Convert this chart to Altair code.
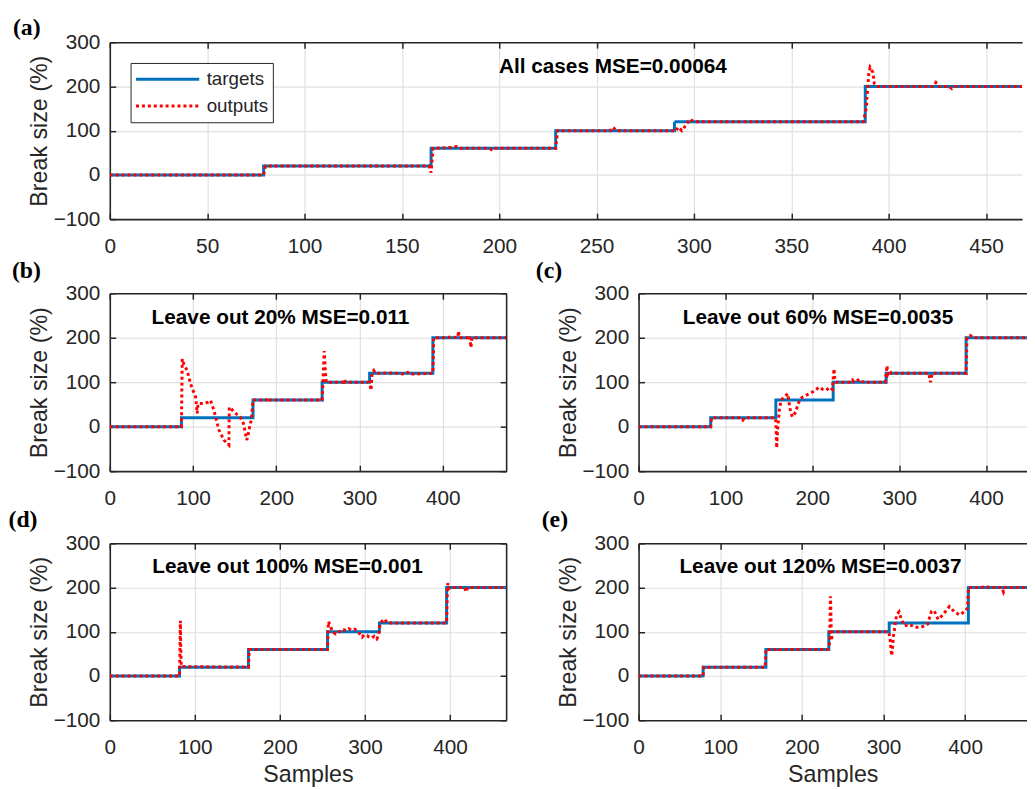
import altair as alt
import pandas as pd

BLUE = "#0072BD"
RED = "#FF0000"
INK = "#262626"
GRID = "#e0e0e0"
SANS = "Liberation Sans"
SERIF = "Liberation Serif"

LEVELS = [0, 20, 60, 100, 120, 200, 200]
Y_TICKS = [-100, 0, 100, 200, 300]
X_TICKS_A = [0, 50, 100, 150, 200, 250, 300, 350, 400, 450]
X_TICKS = [0, 100, 200, 300, 400]
SERIES = ["targets", "outputs"]

# ---------------- (a) all cases ----------------
a_step_x = [0, 79, 165, 229, 290, 388, 476]
a_out_x = [0, 79, 80, 126, 127, 128, 164, 165, 166, 175, 178, 180, 195, 196, 197, 229, 230,
           257, 258.5, 260, 289, 290.5, 292, 293.8, 295.5, 298, 300, 387, 388.5, 389.8, 390.5,
           391.9, 392.7, 394, 423, 424.3, 426, 431, 432.5, 434, 476]
a_out_y = [0, 0, 20, 20, 22, 20, 20, 5, 60, 62, 64, 60, 60, 57, 60, 60, 100,
           100, 108, 100, 100, 98, 108, 100, 110, 126, 120, 120, 150, 228, 243,
           232, 206, 200, 200, 209, 200, 200, 195, 200, 200]

# ---------------- (b) leave out 20% ----------------
b_step_x = [0, 86, 172, 255, 312, 388, 476]
b_out_x = [0, 86, 87, 89, 93, 97, 103, 105, 106, 113, 118, 121, 125, 131, 137, 143, 143.5,
           146, 149, 156.5, 160.5, 164.5, 166, 168.4, 170, 172, 188, 190, 192, 255, 256,
           257.5, 259, 260, 281, 282, 283, 311, 313, 313.7, 315, 317, 319, 340, 355, 358,
           360, 388, 389, 405, 410, 418, 418.7, 420, 430, 432, 433.7, 435, 476]
b_out_y = [0, 0, 152, 140, 126, 96, 67, 30, 52, 52, 55, 59, 37, -7, -30, -41, 44,
           40, 33, 22, 7, -30, -20, 4, 15, 60, 60, 65, 60, 60, 100,
           170, 120, 100, 100, 106, 100, 100, 90, 82, 120, 126, 120, 121, 118, 122,
           118, 120, 200, 200, 202, 200, 215, 200, 200, 205, 178, 200, 200]

# ---------------- (c) leave out 60% ----------------
c_step_x = [0, 83, 158, 224, 285, 377, 476]
c_out_x = [0, 83, 84, 118, 120, 122, 157, 158, 159, 160, 162, 164, 167.5, 172, 173, 175,
           177, 181, 183, 186, 189, 196.5, 202, 208, 212, 216, 220, 223, 224, 225, 226,
           228, 244, 246, 248, 254.8, 257, 260, 284, 285, 286, 287, 289, 291, 334, 336,
           338, 377, 378, 382, 385, 476]
c_out_y = [0, 0, 20, 20, 15, 20, 20, 11, -48, -7, 37, 59, 67, 74, 56, 33,
           22, 33, 48, 62, 67, 74, 80, 89, 84, 82, 89, 84, 107, 130, 103,
           100, 100, 105, 100, 107, 102, 100, 100, 120, 137, 118, 125, 120, 120, 100,
           120, 120, 200, 205, 200, 200]

# ---------------- (d) leave out 100% ----------------
d_step_x = [0, 82, 163, 256, 317, 396, 476]
d_out_x = [0, 82, 83, 83.5, 84, 90, 163, 164, 256, 257, 259.5, 262, 265.7, 270, 273.5,
           278, 281, 285, 288, 292, 296.7, 299, 302.5, 305, 308, 311, 314, 316, 318,
           323, 326, 396, 397, 397.5, 399, 405, 417, 419, 421, 476]
d_out_y = [0, 0, 125, 60, 22, 21, 20, 60, 60, 123, 112, 100, 95, 100, 106,
           103, 107, 104, 106, 100, 88, 93, 92, 88, 86, 90, 84, 92, 120,
           129, 120, 120, 200, 210, 198, 200, 200, 190, 200, 200]

# ---------------- (e) leave out 120% ----------------
e_step_x = [0, 79, 156, 233, 307, 404, 478]
e_out_x = [0, 79, 80, 155, 156, 168, 170, 172, 232, 234, 235, 235.5, 236, 236.5, 237, 238,
           306, 307, 308, 310, 311, 312, 314, 316, 319, 322, 326, 332, 338, 346, 354,
           358.5, 362, 367, 372.5, 380.7, 387, 393, 401, 403, 404, 420, 425, 430, 445,
           447, 449, 478]
e_out_y = [0, 0, 20, 20, 60, 60, 63, 60, 60, 75, 180, 150, 100, 80, 100, 100,
           100, 95, 83, 46, 62, 88, 112, 138, 145, 128, 113, 117, 110, 110, 117,
           145, 148, 128, 138, 157, 145, 138, 148, 155, 200, 200, 203, 200, 200,
           190, 200, 200]


def ax(**kw):
    base = dict(labelFont=SANS, labelFontSize=21, labelColor=INK,
                titleFont=SANS, titleFontSize=23.5, titleFontWeight="normal",
                titleColor=INK, tickColor=INK, tickWidth=1.5,
                domainColor=INK, domainWidth=1.6, gridColor=GRID, gridWidth=1.2,
                labelFlush=False, labelOverlap=False)
    base.update(kw)
    return alt.Axis(**base)


def panel(step_x, out_x, out_y, xmax, w, h, xticks, tag, tag_xy, note, note_xy,
          xtitle, right, legend=False):
    tdf = pd.DataFrame({"x": step_x, "y": LEVELS, "s": SERIES[0]})
    odf = pd.DataFrame({"x": out_x, "y": out_y, "s": SERIES[1]})
    xs = alt.Scale(domain=[0, xmax], nice=False, zero=False)
    ys = alt.Scale(domain=[-100, 300], nice=False, zero=False)

    grid_x = ax(orient="bottom", values=xticks, grid=True, ticks=False, labels=False,
                domain=True, title=None)
    grid_y = ax(orient="left", values=Y_TICKS, grid=True, ticks=False, labels=False,
                domain=True, title=None)
    lab_x_kw = dict(orient="bottom", values=xticks, grid=False, ticks=True, tickSize=6,
                    offset=-6, labels=True, domain=False, labelPadding=16.5,
                    titlePadding=6)
    lab_x = ax(title=xtitle, **lab_x_kw) if xtitle else ax(title=None, **lab_x_kw)
    lab_y = ax(orient="left", values=Y_TICKS, grid=False, ticks=True, tickSize=6,
               offset=-6, labels=True, domain=False, labelPadding=10,
               title="Break size (%)", titlePadding=2)
    top_dom = ax(orient="top", values=xticks, grid=False, ticks=False, labels=False,
                 domain=True, title=None)
    top_tick = ax(orient="top", values=xticks, grid=False, ticks=True, tickSize=6,
                  offset=-6, labels=False, domain=False, title=None)
    right_dom = ax(orient="right", values=Y_TICKS, grid=False, ticks=False, labels=False,
                   domain=True, title=None)
    right_tick = ax(orient="right", values=Y_TICKS, grid=False, ticks=True, tickSize=6,
                    offset=-6, labels=False, domain=False, title=None)

    if legend:
        leg = alt.Legend(orient="none", legendX=21, legendY=21, title=None,
                         padding=4, clipHeight=25, rowPadding=2,
                         symbolType="stroke", symbolSize=4096, symbolStrokeWidth=3,
                         labelFont=SANS, labelFontSize=19, labelColor=INK,
                         labelOffset=6, strokeColor=INK, fillColor="white")
        cscale = alt.Scale(domain=SERIES, range=[BLUE, RED])
        dscale = alt.Scale(domain=SERIES, range=[[1, 0], [3, 3]])
        t_line = alt.Chart(tdf).mark_line(interpolate="step-after", strokeWidth=3,
                                           clip=True).encode(
            x=alt.X("x:Q", scale=xs, axis=grid_x),
            y=alt.Y("y:Q", scale=ys, axis=grid_y),
            color=alt.Color("s:N", scale=cscale, legend=leg),
            strokeDash=alt.StrokeDash("s:N", scale=dscale, legend=leg))
        o_line = alt.Chart(odf).mark_line(strokeWidth=3, clip=True).encode(
            x=alt.X("x:Q", scale=xs, axis=lab_x),
            y=alt.Y("y:Q", scale=ys, axis=lab_y),
            color=alt.Color("s:N", scale=cscale, legend=leg),
            strokeDash=alt.StrokeDash("s:N", scale=dscale, legend=leg))
    else:
        t_line = alt.Chart(tdf).mark_line(interpolate="step-after", strokeWidth=3,
                                           color=BLUE, clip=True).encode(
            x=alt.X("x:Q", scale=xs, axis=grid_x),
            y=alt.Y("y:Q", scale=ys, axis=grid_y))
        o_line = alt.Chart(odf).mark_line(strokeWidth=3, color=RED, strokeDash=[3, 3],
                                           clip=True).encode(
            x=alt.X("x:Q", scale=xs, axis=lab_x),
            y=alt.Y("y:Q", scale=ys, axis=lab_y))

    frame1 = alt.Chart(tdf).mark_line(opacity=0, clip=True).encode(
        x=alt.X("x:Q", scale=xs, axis=top_dom),
        y=alt.Y("y:Q", scale=ys, axis=right_dom if right else None))
    frame2 = alt.Chart(tdf).mark_line(opacity=0, clip=True).encode(
        x=alt.X("x:Q", scale=xs, axis=top_tick),
        y=alt.Y("y:Q", scale=ys, axis=right_tick if right else None))

    note_layer = alt.Chart(pd.DataFrame({"t": [note]})).mark_text(
        font=SANS, fontSize=21, fontWeight="bold", color="black",
        align="center", baseline="alphabetic").encode(
        x=alt.value(note_xy[0]), y=alt.value(note_xy[1]), text="t:N")
    tag_layer = alt.Chart(pd.DataFrame({"t": [tag]})).mark_text(
        font=SERIF, fontSize=24, fontWeight="bold", color="black",
        align="left", baseline="alphabetic").encode(
        x=alt.value(tag_xy[0]), y=alt.value(tag_xy[1]), text="t:N")

    return alt.layer(t_line, o_line, frame1, frame2, note_layer, tag_layer).resolve_axis(
        x="independent", y="independent").properties(width=w, height=h)


pa = panel(a_step_x, a_out_x, a_out_y, 923 / 1.97, 923, 179, X_TICKS_A,
           "(a)", (-98, -7.5), "All cases MSE=0.00064", (509, 31.3), None, False,
           legend=True)
pb = panel(b_step_x, b_out_x, b_out_y, 476, 401, 180, X_TICKS,
           "(b)", (-99, -15), "Leave out 20% MSE=0.011", (172.7, 30.7), None, True)
pc = panel(c_step_x, c_out_x, c_out_y, 393 / 0.879, 393, 180, X_TICKS,
           "(c)", (-104, -15), "Leave out 60% MSE=0.0035", (181.5, 30.7), None, False)
pd_ = panel(d_step_x, d_out_x, d_out_y, 466, 401, 179, X_TICKS,
            "(d)", (-102.5, -16), "Leave out 100% MSE=0.001", (179.8, 30.3), "Samples", True)
pe = panel(e_step_x, e_out_x, e_out_y, 393 / 0.826, 393, 179, X_TICKS,
           "(e)", (-98, -16), "Leave out 120% MSE=0.0037", (184, 30.3), "Samples", False)

row2 = alt.hconcat(pb, pc, spacing=29)
row3 = alt.hconcat(pd_, pe, spacing=35)
lower = alt.vconcat(row2, row3, spacing=0)

chart = alt.vconcat(pa, lower, spacing=3).resolve_scale(
    color="independent", strokeDash="independent").properties(
    padding={"left": 0, "top": 3, "right": 0, "bottom": 0}).configure_view(stroke=None)

chart.save("out.html", embed_options={"renderer": "svg", "actions": False})
